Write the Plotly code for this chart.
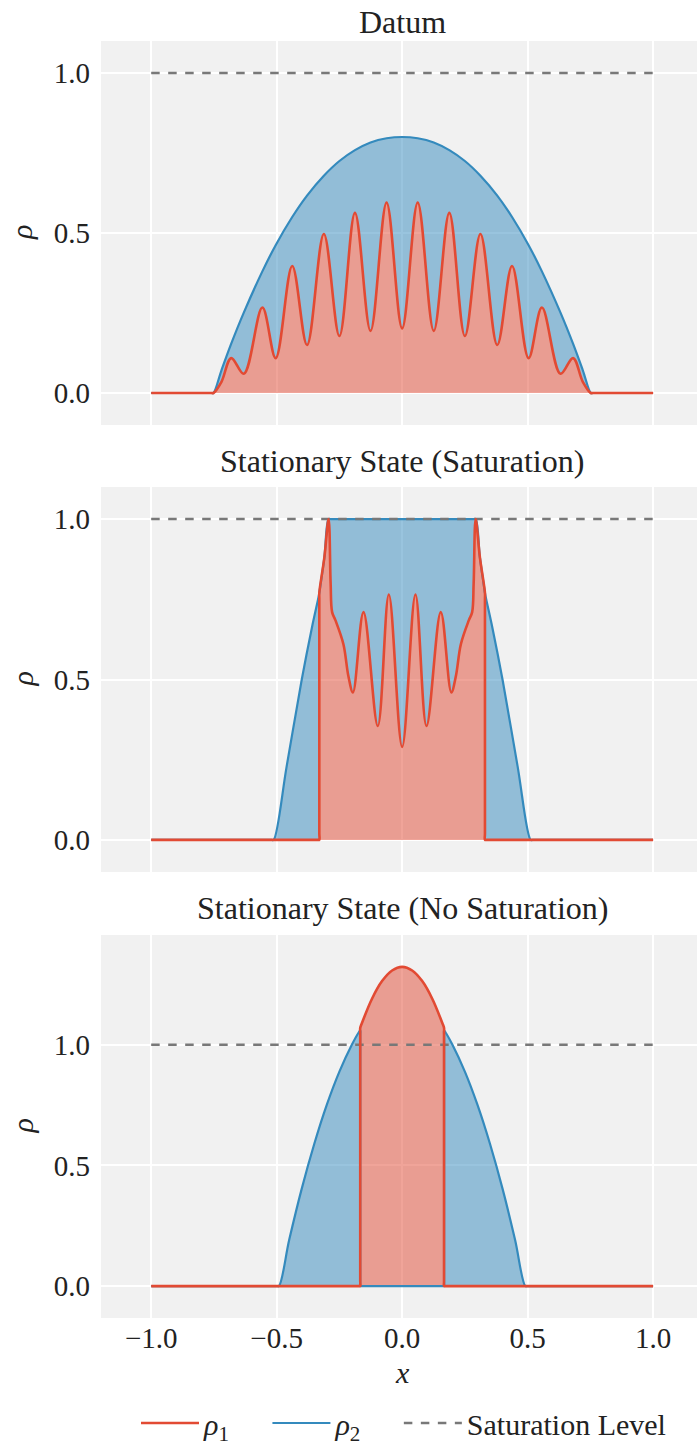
import numpy as np
import plotly.graph_objects as go

# ---------------- data ----------------
# Panel 1: Datum
x1 = [-1.0, -0.76, -0.752, -0.72, -0.681, -0.631, -0.557, -0.504, -0.438, -0.379,
      -0.312, -0.25, -0.188, -0.126, -0.062, 0.0, 0.062, 0.126, 0.188, 0.25,
      0.312, 0.379, 0.438, 0.504, 0.557, 0.631, 0.681, 0.72, 0.752, 0.76, 1.0]
rho1_a = [0.0, 0.0, 0.0, 0.035, 0.109, 0.060, 0.267, 0.109, 0.397, 0.150,
          0.497, 0.178, 0.563, 0.194, 0.595, 0.202, 0.595, 0.194, 0.563, 0.178,
          0.497, 0.150, 0.397, 0.109, 0.267, 0.060, 0.109, 0.035, 0.0, 0.0, 0.0]
rho2_a = [0.0, 0.0, 0.0, 0.071, 0.154, 0.251, 0.380, 0.462, 0.550, 0.617,
          0.679, 0.725, 0.759, 0.783, 0.796, 0.800, 0.796, 0.783, 0.759, 0.725,
          0.679, 0.617, 0.550, 0.462, 0.380, 0.251, 0.154, 0.071, 0.0, 0.0, 0.0]

# Panel 2: Stationary State (Saturation)
x2 = [-1.0, -0.52, -0.512, -0.46, -0.40, -0.36, -0.335, -0.330, -0.330, -0.330,
      -0.330, -0.31, -0.293, -0.285, -0.279, -0.266, -0.234, -0.214, -0.196, -0.154,
      -0.097, -0.053, 0.0, 0.053, 0.097, 0.154, 0.196, 0.214, 0.234, 0.266,
      0.279, 0.285, 0.293, 0.31, 0.330, 0.330, 0.330, 0.330, 0.335, 0.36,
      0.40, 0.46, 0.512, 0.52, 1.0]
rho1_b = [0.0, 0.0, 0.0, 0.0, 0.0, 0.0, 0.0, 0.0, 0.02, 0.75,
          0.77, 0.88, 1.0, 0.80, 0.71, 0.685, 0.61, 0.51, 0.46, 0.71,
          0.355, 0.765, 0.29, 0.765, 0.355, 0.71, 0.46, 0.51, 0.61, 0.685,
          0.71, 0.80, 1.0, 0.88, 0.77, 0.75, 0.02, 0.0, 0.0, 0.0,
          0.0, 0.0, 0.0, 0.0, 0.0]
rho2_b = [0.0, 0.0, 0.0, 0.23, 0.50, 0.66, 0.75, 0.77, 0.77, 0.77,
          0.77, 0.88, 1.0, 1.0, 1.0, 1.0, 1.0, 1.0, 1.0, 1.0,
          1.0, 1.0, 1.0, 1.0, 1.0, 1.0, 1.0, 1.0, 1.0, 1.0,
          1.0, 1.0, 1.0, 0.88, 0.77, 0.77, 0.77, 0.77, 0.75, 0.66,
          0.50, 0.23, 0.0, 0.0, 0.0]

# Panel 3: Stationary State (No Saturation)
x3 = [-1.0, -0.50, -0.491, -0.45, -0.40, -0.35, -0.30, -0.25, -0.20, -0.172,
      -0.167, -0.167, -0.167, -0.167, -0.162, -0.12, -0.08, -0.04, 0.0, 0.04,
      0.08, 0.12, 0.162, 0.167, 0.167, 0.167, 0.167, 0.172, 0.20, 0.25,
      0.30, 0.35, 0.40, 0.45, 0.491, 0.50, 1.0]
rho1_c = [0.0, 0.0, 0.0, 0.0, 0.0, 0.0, 0.0, 0.0, 0.0, 0.0,
          0.0, 0.02, 1.05, 1.07, 1.085, 1.191, 1.264, 1.308, 1.323, 1.308,
          1.264, 1.191, 1.085, 1.07, 1.05, 0.02, 0.0, 0.0, 0.0, 0.0,
          0.0, 0.0, 0.0, 0.0, 0.0, 0.0, 0.0]
rho2_c = [0.0, 0.0, 0.0, 0.192, 0.404, 0.590, 0.752, 0.889, 1.001, 1.053,
          1.06, 1.04, 0.02, 0.0, 0.0, 0.0, 0.0, 0.0, 0.0, 0.0,
          0.0, 0.0, 0.0, 0.0, 0.02, 1.04, 1.06, 1.053, 1.001, 0.889,
          0.752, 0.590, 0.404, 0.192, 0.0, 0.0, 0.0]

saturation_x = [-1.0, 1.0]
saturation_y = [1.0, 1.0]

titles = ["Datum", "Stationary State (Saturation)", "Stationary State (No Saturation)"]
legend_names = ["<i>ρ</i><sub>1</sub>", "<i>ρ</i><sub>2</sub>", "Saturation Level"]
y_ticks = [0.0, 0.5, 1.0]
x_ticks = [-1.0, -0.5, 0.0, 0.5, 1.0]

# ---------------- style ----------------
RED = "#E24A33"
BLUE = "#348ABD"
RED_FILL = "rgba(226,74,51,0.5)"
BLUE_FILL = "rgba(52,138,189,0.5)"
GRAY = "#787878"
BG = "#F1F1F1"
FONT = "Liberation Serif"
TXT = "#222222"
PAD = "\u00a0" * 4 + "\u200a"  # spacing between legend entries

panels = [(x1, rho1_a, rho2_a), (x2, rho1_b, rho2_b), (x3, rho1_c, rho2_c)]

fig = go.Figure()
for i, (xx, r1, r2) in enumerate(panels):
    n = i + 1
    xa = "x" if n == 1 else f"x{n}"
    ya = "y" if n == 1 else f"y{n}"
    top = np.maximum(np.array(r1), np.array(r2))
    common = dict(xaxis=xa, yaxis=ya, hoverinfo="skip")
    spl = dict(shape="spline", smoothing=1, simplify=False)
    fig.add_trace(go.Scatter(x=xx, y=r1, mode="lines", fill="tozeroy", fillcolor=RED_FILL,
                             line=dict(width=0, **spl), showlegend=False, **common))
    fig.add_trace(go.Scatter(x=xx, y=top, mode="lines", fill="tonexty", fillcolor=BLUE_FILL,
                             line=dict(width=0, **spl), showlegend=False, **common))
    fig.add_trace(go.Scatter(x=xx, y=r2, mode="lines", name=legend_names[1] + PAD,
                             line=dict(color=BLUE, width=2.2, **spl),
                             showlegend=(n == 1), legendrank=2, **common))
    fig.add_trace(go.Scatter(x=saturation_x, y=saturation_y, mode="lines", name=legend_names[2],
                             line=dict(color=GRAY, width=2.5, dash="8.5px,8.5px"),
                             showlegend=(n == 1), legendrank=3, **common))
    fig.add_trace(go.Scatter(x=xx, y=r1, mode="lines", name=legend_names[0] + PAD,
                             line=dict(color=RED, width=2.6, **spl),
                             showlegend=(n == 1), legendrank=1, **common))

W, H = 697, 1449
ML, MR, MT, MB = 101, 0, 41, 131
ph = H - MT - MB
pw = W - ML - MR
def frac(py):
    return (H - MB - py) / ph

domains = [(frac(425), 1.0), (frac(872), frac(487)), (0.0, frac(935))]
yranges = [[-0.1, 1.1], [-0.1, 1.1], [-0.132, 1.455]]
title_py = [21.7, 460.7, 908]

axis_font = dict(family=FONT, size=29, color=TXT)
layout = dict(
    width=W, height=H,
    margin=dict(l=ML, r=MR, t=MT, b=MB),
    paper_bgcolor="white",
    plot_bgcolor=BG,
    font=dict(family=FONT, size=29, color=TXT),
    showlegend=True,
    legend=dict(orientation="h", traceorder="normal",
                xref="paper", x=(136 - ML) / pw, xanchor="left",
                yref="container", y=0.0, yanchor="bottom",
                font=dict(family=FONT, size=30, color=TXT), bgcolor="rgba(0,0,0,0)",
                itemwidth=58, tracegroupgap=0),
)
annotations = []
for i in range(3):
    n = i + 1
    xk = "xaxis" if n == 1 else f"xaxis{n}"
    yk = "yaxis" if n == 1 else f"yaxis{n}"
    ya = "y" if n == 1 else f"y{n}"
    xa = "x" if n == 1 else f"x{n}"
    layout[xk] = dict(domain=[0, 1], anchor=ya, range=[-1.2, 1.175], tickvals=x_ticks,
                      tickformat=".1f", showticklabels=(n == 3), showgrid=True,
                      gridcolor="white", gridwidth=2.2, zeroline=False, showline=False,
                      ticks="", ticklabelstandoff=0, tickfont=axis_font)
    if n > 1:
        layout[xk]["matches"] = "x"
    layout[yk] = dict(domain=list(domains[i]), anchor=xa, range=yranges[i], tickvals=y_ticks,
                      tickformat=".1f", showgrid=True, gridcolor="white", gridwidth=2.2,
                      zeroline=False, showline=False, ticks="", ticklabelstandoff=10,
                      tickfont=axis_font)
    annotations.append(dict(text=titles[i], xref="x", x=0, yref="paper", y=frac(title_py[i]),
                            xanchor="center", yanchor="middle", showarrow=False,
                            font=dict(family=FONT, size=32, color=TXT)))
    annotations.append(dict(text="<i>ρ</i>", xref="paper", x=(22 - ML) / pw,
                            yref="paper", y=sum(domains[i]) / 2, textangle=-90,
                            xanchor="center", yanchor="middle", showarrow=False,
                            font=dict(family=FONT, size=30, color=TXT)))
annotations.append(dict(text="<i>x</i>", xref="x3", x=0, yref="paper", y=frac(1372),
                        xanchor="center", yanchor="middle", showarrow=False,
                        font=dict(family=FONT, size=30, color=TXT)))
layout["annotations"] = annotations
fig.update_layout(**layout)

fig.write_html("out.html", config={"displayModeBar": False},
               post_script="document.body.style.margin='0';")
